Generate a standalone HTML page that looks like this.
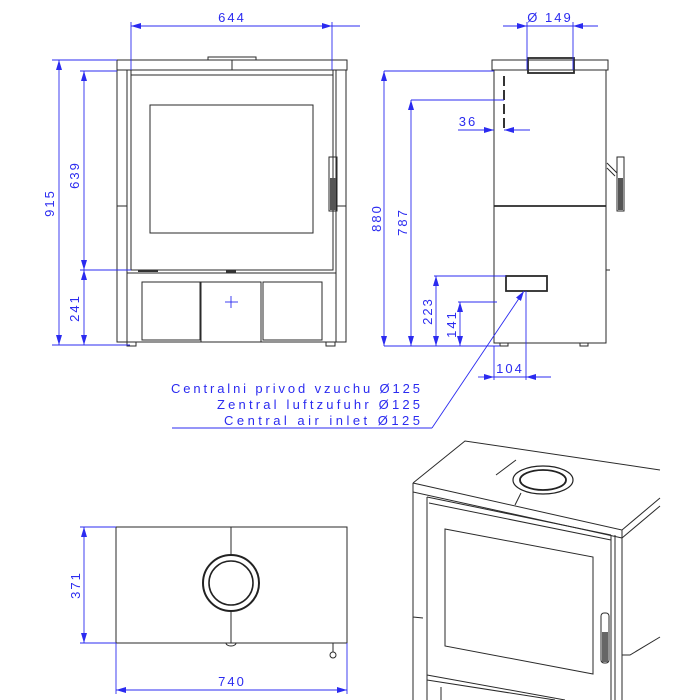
<!DOCTYPE html>
<html><head><meta charset="utf-8"><style>
html,body{margin:0;padding:0;background:#fff;width:700px;height:700px;overflow:hidden}
svg{display:block}
.b{stroke:#2a2a2a;stroke-width:1;fill:none}
.bt{stroke:#2a2a2a;stroke-width:1.8;fill:none}
.d{stroke:#2b2bf0;stroke-width:0.9;fill:none}
.t{fill:#2b2bf0;font-family:"Liberation Sans",sans-serif;font-size:13px;letter-spacing:2px}
</style></head><body>
<svg width="700" height="700" viewBox="0 0 700 700">
<defs>
<marker id="a" viewBox="0 0 10 6" refX="10" refY="3" markerWidth="10" markerHeight="6" orient="auto-start-reverse" markerUnits="userSpaceOnUse"><path d="M0,0L10,3L0,6z" fill="#2b2bf0"/></marker>
</defs>

<!-- FRONT VIEW -->
<rect class="b" x="117" y="60" width="230" height="10"/>
<rect class="b" x="208" y="57" width="48" height="3"/>
<line class="b" x1="232" y1="60" x2="232" y2="70"/>
<rect class="b" x="117" y="70" width="10" height="272"/>
<rect class="b" x="336" y="70" width="10" height="272"/>
<line class="b" x1="117" y1="206" x2="127" y2="206"/>
<line class="b" x1="336" y1="206" x2="346" y2="206"/>
<rect class="b" x="131" y="70" width="202" height="200"/>
<line class="b" x1="131" y1="75" x2="333" y2="75"/>
<rect class="b" x="150" y="105" width="163" height="128"/>
<rect class="b" x="329" y="157" width="8" height="54"/>
<rect x="330" y="178" width="6" height="32" fill="#555"/>
<line class="b" x1="127" y1="273" x2="336" y2="273"/>
<rect x="138" y="270" width="20" height="2" fill="#333"/>
<rect x="226" y="270" width="10" height="3" fill="#333"/>
<rect class="b" x="142" y="282" width="58" height="58"/>
<rect class="b" x="201" y="282" width="60" height="60"/>
<rect class="b" x="263" y="282" width="59" height="58"/>
<line class="d" x1="225" y1="302" x2="238" y2="302"/><line class="d" x1="231" y1="296" x2="231" y2="308"/>
<line class="b" x1="127" y1="342" x2="336" y2="342"/>
<rect class="b" x="127" y="342" width="9" height="4"/><rect class="b" x="326" y="342" width="9" height="4"/>
<!-- front dims -->
<line class="d" x1="131" y1="26" x2="332" y2="26" marker-start="url(#a)" marker-end="url(#a)"/>
<line class="d" x1="332" y1="26" x2="360" y2="26"/>
<line class="d" x1="131" y1="22" x2="131" y2="70"/><line class="d" x1="332" y1="22" x2="332" y2="70"/>
<text class="t" x="232" y="22" text-anchor="middle">644</text>
<line class="d" x1="52" y1="60" x2="117" y2="60"/>
<line class="d" x1="80" y1="71" x2="117" y2="71"/>
<line class="d" x1="80" y1="270" x2="131" y2="270"/>
<line class="d" x1="52" y1="345" x2="130" y2="345"/>
<line class="d" x1="59" y1="60" x2="59" y2="345" marker-start="url(#a)" marker-end="url(#a)"/>
<line class="d" x1="84" y1="71" x2="84" y2="270" marker-start="url(#a)" marker-end="url(#a)"/>
<line class="d" x1="84" y1="270" x2="84" y2="345" marker-start="url(#a)" marker-end="url(#a)"/>
<text class="t" transform="translate(54,203) rotate(-90)" text-anchor="middle">915</text>
<text class="t" transform="translate(79,175) rotate(-90)" text-anchor="middle">639</text>
<text class="t" transform="translate(79,308) rotate(-90)" text-anchor="middle">241</text>

<!-- SIDE VIEW -->
<rect class="b" x="492" y="60" width="116" height="10"/>
<rect class="bt" x="528" y="58" width="46" height="15"/>
<rect class="b" x="494" y="70" width="112" height="273"/>
<line class="bt" x1="494" y1="206" x2="606" y2="206"/>
<line x1="504" y1="76" x2="504" y2="130" stroke="#333" stroke-width="2" stroke-dasharray="10,4"/>
<line class="b" x1="607" y1="163" x2="617" y2="173"/><line class="b" x1="607" y1="168" x2="615" y2="176"/>
<rect class="b" x="617" y="157" width="7" height="54"/>
<rect x="618" y="178" width="5" height="32" fill="#555"/>
<line class="b" x1="606" y1="270" x2="610" y2="270"/>
<rect class="bt" x="506" y="276" width="41" height="15"/>
<rect class="b" x="500" y="343" width="8" height="3"/><rect class="b" x="580" y="343" width="8" height="3"/>
<!-- side dims -->
<line class="d" x1="503" y1="26" x2="598" y2="26"/>
<line class="d" x1="503" y1="26" x2="527" y2="26" marker-end="url(#a)"/>
<line class="d" x1="598" y1="26" x2="573" y2="26" marker-end="url(#a)"/>
<line class="d" x1="527" y1="22" x2="527" y2="70"/><line class="d" x1="573" y1="22" x2="573" y2="70"/>
<text class="t" x="550" y="22" text-anchor="middle">Ø 149</text>
<line class="d" x1="384" y1="71" x2="494" y2="71"/>
<line class="d" x1="411" y1="100" x2="504" y2="100"/>
<line class="d" x1="384" y1="71" x2="384" y2="346" marker-start="url(#a)" marker-end="url(#a)"/>
<line class="d" x1="411" y1="100" x2="411" y2="346" marker-start="url(#a)" marker-end="url(#a)"/>
<text class="t" transform="translate(381,218) rotate(-90)" text-anchor="middle">880</text>
<text class="t" transform="translate(407,222) rotate(-90)" text-anchor="middle">787</text>
<line class="d" x1="458" y1="130" x2="494" y2="130" marker-end="url(#a)"/>
<line class="d" x1="530" y1="130" x2="504" y2="130" marker-end="url(#a)"/>
<text class="t" x="468" y="126" text-anchor="middle">36</text>
<line class="d" x1="434" y1="276" x2="506" y2="276"/>
<line class="d" x1="458" y1="302" x2="497" y2="302"/>
<line class="d" x1="384" y1="346" x2="500" y2="346"/>
<line class="d" x1="436" y1="276" x2="436" y2="346" marker-start="url(#a)" marker-end="url(#a)"/>
<line class="d" x1="460" y1="302" x2="460" y2="346" marker-start="url(#a)" marker-end="url(#a)"/>
<text class="t" transform="translate(432,311) rotate(-90)" text-anchor="middle">223</text>
<text class="t" transform="translate(456,324) rotate(-90)" text-anchor="middle">141</text>
<line class="d" x1="494" y1="346" x2="494" y2="380"/><line class="d" x1="526" y1="291" x2="526" y2="380"/>
<line class="d" x1="478" y1="377" x2="494" y2="377" marker-end="url(#a)"/>
<line class="d" x1="551" y1="377" x2="526" y2="377" marker-end="url(#a)"/>
<line class="d" x1="494" y1="377" x2="526" y2="377"/>
<text class="t" x="510" y="373" text-anchor="middle">104</text>
<line class="d" x1="432" y1="428" x2="524" y2="291" marker-end="url(#a)"/>
<line class="d" x1="172" y1="428" x2="432" y2="428"/>
<text class="t" x="171" y="393" textLength="251" lengthAdjust="spacing">Centralni privod vzuchu Ø125</text>
<text class="t" x="217" y="409" textLength="205" lengthAdjust="spacing">Zentral luftzufuhr Ø125</text>
<text class="t" x="224" y="425" textLength="198" lengthAdjust="spacing">Central air inlet Ø125</text>

<!-- TOP VIEW -->
<rect class="b" x="116" y="527" width="231" height="116"/>
<line class="b" x1="231" y1="527" x2="231" y2="643"/>
<circle cx="231" cy="583" r="28" fill="#fff" stroke="#222" stroke-width="2"/>
<circle cx="231" cy="583" r="22" fill="#fff" stroke="#222" stroke-width="1.6"/>
<path class="b" d="M226,643 a5,3 0 0 0 10,0"/>
<line class="b" x1="333" y1="643" x2="333" y2="652"/>
<circle class="b" cx="333" cy="655" r="3"/>
<line class="d" x1="80" y1="527" x2="116" y2="527"/><line class="d" x1="80" y1="643" x2="116" y2="643"/>
<line class="d" x1="84" y1="527" x2="84" y2="643" marker-start="url(#a)" marker-end="url(#a)"/>
<text class="t" transform="translate(80,585) rotate(-90)" text-anchor="middle">371</text>
<line class="d" x1="116" y1="643" x2="116" y2="694"/><line class="d" x1="347" y1="643" x2="347" y2="694"/>
<line class="d" x1="116" y1="690" x2="347" y2="690" marker-start="url(#a)" marker-end="url(#a)"/>
<text class="t" x="232" y="686" text-anchor="middle">740</text>

<!-- ISO VIEW -->
<path class="b" d="M413,483 L465,441 L660,470"/>
<path class="b" d="M413,483 L413,492 L622,538 L622,530 L413,483"/>
<path class="b" d="M622,538 L660,506 M622,530 L660,498"/>
<path class="b" d="M516,460 L496,475 M521,493 L515,505"/>
<ellipse cx="543" cy="480" rx="30" ry="14" fill="#fff" stroke="#222" stroke-width="1.2"/>
<ellipse cx="543" cy="480" rx="23" ry="10" fill="#fff" stroke="#222" stroke-width="1.8"/>
<path class="b" d="M413,492 L413,700 M427,497 L427,700 M413,617 L423,618"/>
<path class="b" d="M427,497 L611,535 M429,503 L611,540"/>
<path class="b" d="M611,535 L611,700 M615,535 L615,700 M622,538 L622,700 M622,655 L630,655 L660,637"/>
<path class="b" d="M445,529 L593,557 L593,674 L445,646 Z"/>
<rect class="b" x="601" y="613" width="8" height="50" rx="3"/>
<rect x="602" y="632" width="6" height="30" fill="#666"/>
<path class="b" d="M427,675 L565,700 M427,680 L555,700 M441,687 L441,700"/>
</svg>
</body></html>
